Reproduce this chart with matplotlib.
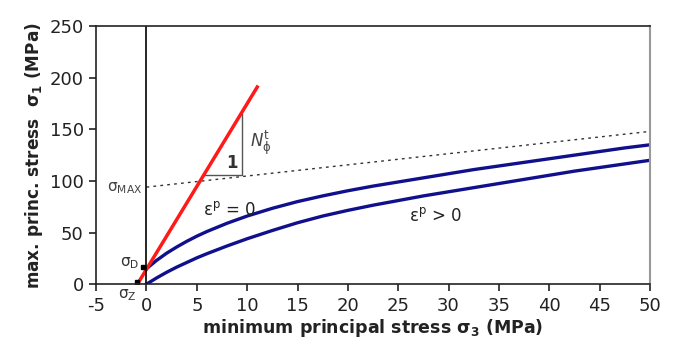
import matplotlib.pyplot as plt

# data
sig3 = [0, 1, 2, 3, 4, 5, 6, 8, 10, 12.5, 15, 17.5, 20, 22.5, 25,
        27.5, 30, 32.5, 35, 37.5, 40, 42.5, 45, 47.5, 50]
# eps_p = 0
sig1_elastic = [15, 23, 30, 36, 41.5, 46.5, 51, 59, 66, 73.5, 80, 85.5, 90.5, 95, 99,
                103, 107, 111, 114.5, 118, 121.5, 125, 128.5, 132, 135]
# eps_p > 0
sig1_plastic = [0, 6, 11.5, 16.5, 21, 25.5, 29.5, 37, 44, 52, 59.5, 66, 71.5, 76.5, 81,
                85.5, 89.5, 93.5, 97.5, 101.5, 105.5, 109.5, 113, 116.5, 120]

red_x = [-0.9, 11.0]
red_y = [0, 191]

max_x = [0, 50]
max_y = [94, 148]

tri_x = [5.7, 9.45, 9.45]
tri_y = [106, 106, 165]

pts_x = [-0.9, -0.3]
pts_y = [2, 16.5]

plt.rcParams['font.family'] = ['DejaVu Sans']
plt.rcParams['axes.unicode_minus'] = False
plt.rcParams['mathtext.default'] = 'regular'

fig = plt.figure(figsize=(6.77, 3.53), dpi=100)
ax = fig.add_axes([0.142, 0.195, 0.818, 0.731])

ax.plot(sig3, sig1_elastic, color='#10108c', lw=2.4)
ax.plot(sig3, sig1_plastic, color='#10108c', lw=2.4)
ax.plot(max_x, max_y, color='#333333', lw=1.0, linestyle=(0, (2, 3)))
ax.plot(tri_x, tri_y, color='#555555', lw=1.0)
ax.plot(red_x, red_y, color='#ff1a1a', lw=2.5)
ax.plot(pts_x, pts_y, 's', color='black', ms=3.5)
ax.axvline(0, color='black', lw=1.2)

ax.set_xlim(-5, 50)
ax.set_ylim(0, 250)
ax.set_xticks(range(-5, 51, 5))
ax.set_yticks(range(0, 251, 50))
ax.tick_params(direction='out', length=5, width=1.2, labelsize=13, colors='#222222', pad=4)
for s in ['left', 'bottom', 'top']:
    ax.spines[s].set_color('#222222')
    ax.spines[s].set_linewidth(1.2)
ax.spines['right'].set_color('#999999')
ax.spines['right'].set_linewidth(1.5)

ax.set_xlabel('minimum principal stress σ$_3$ (MPa)', fontsize=12.5,
              fontweight='bold', color='#222222', labelpad=2)
ax.set_ylabel('max. princ. stress  σ$_1$ (MPa)', fontsize=12.2,
              fontweight='bold', color='#222222', labelpad=3)

ax.text(-0.4, 93, 'σ$_{MAX}$', fontsize=11, color='#444444', ha='right', va='center')
ax.text(-0.7, 20, 'σ$_D$', fontsize=11, color='#333333', ha='right', va='center')
ax.text(-1.0, -11, 'σ$_Z$', fontsize=11, color='#333333', ha='right', va='center',
        clip_on=False)
ax.text(8.2, 72, 'ε$^p$ = 0', fontsize=12, color='#222222', ha='center', va='center')
ax.text(28.7, 66, 'ε$^p$ > 0', fontsize=12, color='#222222', ha='center', va='center')
ax.text(8.5, 117, '1', fontsize=12, fontweight='bold', color='#333333', ha='center', va='center')
ax.text(10.3, 137, r'$\mathit{N}_\phi^t$', fontsize=12, color='#444444', ha='left', va='center')

fig.savefig('out.png', dpi=100)
